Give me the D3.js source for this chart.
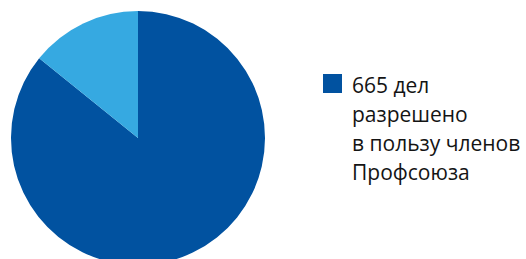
<!DOCTYPE html>
<html>
<head>
<meta charset="utf-8">
<script src="https://cdn.jsdelivr.net/npm/d3@7"></script>
<style>
  body { margin: 0; background: #fff; }
  svg { display: block; }
</style>
</head>
<body>
<svg id="chart" width="526" height="259"></svg>
<script>
const labels = ["665 дел разрешено в пользу членов Профсоюза", "прочие"];
const values = [665, 110];
const colors = ["#0152a0", "#36a9e1"];
const legendLines = ["665 дел", "разрешено", "в пользу членов", "Профсоюза"];

const svg = d3.select("#chart");
const cx = 138, cy = 138, radius = 127;

const pie = d3.pie().sort(null).startAngle(0).endAngle(2 * Math.PI);
const arc = d3.arc().innerRadius(0).outerRadius(radius);

const g = svg.append("g").attr("transform", `translate(${cx},${cy})`);
g.selectAll("path")
    .data(pie(values))
    .join("path")
    .attr("d", arc)
    .attr("fill", (d, i) => colors[i]);

// legend, only first series shown
const legend = svg.append("g").attr("transform", "translate(323,74)");
legend.append("rect")
    .attr("width", 19)
    .attr("height", 19)
    .attr("fill", colors[0]);

legend.append("text")
    .attr("font-family", "Open Sans, sans-serif")
    .attr("font-size", 21)
    .attr("fill", "#141414")
    .selectAll("tspan")
    .data(legendLines)
    .join("tspan")
    .attr("x", 29)
    .attr("y", (d, i) => 19 + i * 29)
    .text(d => d);
</script>
</body>
</html>
